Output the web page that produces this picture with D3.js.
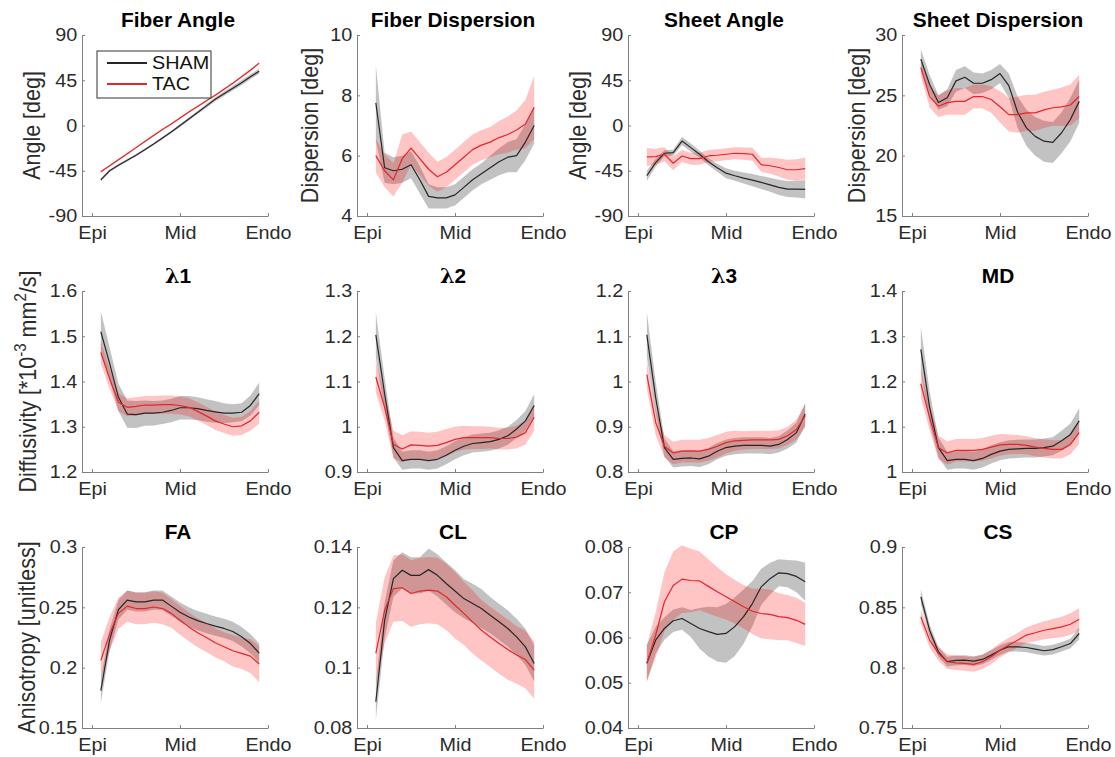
<!DOCTYPE html>
<html>
<head>
<meta charset="utf-8">
<script src="https://cdn.jsdelivr.net/npm/d3@7"></script>
<style>
  body { margin: 0; background: #fff; }
  svg { display: block; }
</style>
</head>
<body>
<svg id="fig" width="1115" height="757"></svg>
<script>
// Transmural depth bins (fraction of wall from epicardium to endocardium)
const depth = [0.05, 0.10, 0.15, 0.20, 0.25, 0.30, 0.35, 0.40, 0.45, 0.50,
               0.55, 0.60, 0.65, 0.70, 0.75, 0.80, 0.85, 0.90, 0.95];
const xTickValues = [0, 0.5, 1];
const xTickLabels = ["Epi", "Mid", "Endo"];
const groupNames = ["SHAM", "TAC"];

const panelTitles = ["Fiber Angle", "Fiber Dispersion", "Sheet Angle", "Sheet Dispersion",
                     "λ1", "λ2", "λ3", "MD", "FA", "CL", "CP", "CS"];
const yAxisLabels = ["Angle [deg]", "Dispersion [deg]", "Angle [deg]", "Dispersion [deg]",
                     "Diffusivity [*10^{-3} mm^{2}/s]", "", "", "",
                     "Anisotropy [unitless]", "", "", ""];
const yLimits = [[-90, 90], [4, 10], [-90, 90], [15, 30],
                 [1.2, 1.6], [0.9, 1.3], [0.8, 1.2], [1, 1.4],
                 [0.15, 0.3], [0.08, 0.14], [0.04, 0.08], [0.75, 0.9]];
const yTickValues = [[-90, -45, 0, 45, 90], [4, 6, 8, 10], [-90, -45, 0, 45, 90], [15, 20, 25, 30],
                     [1.2, 1.3, 1.4, 1.5, 1.6], [0.9, 1, 1.1, 1.2, 1.3], [0.8, 0.9, 1, 1.1, 1.2], [1, 1.1, 1.2, 1.3, 1.4],
                     [0.15, 0.2, 0.25, 0.3], [0.08, 0.1, 0.12, 0.14], [0.04, 0.05, 0.06, 0.07, 0.08], [0.75, 0.8, 0.85, 0.9]];

// Group means and standard errors per depth bin
const fiberAngleSham     = [-54, -45, -39.5, -34.5, -29.5, -24, -18.5, -12.5, -6.5, 0, 6.5, 13, 19.5, 26, 31.5, 37, 42.5, 48.5, 54];
const fiberAngleShamSem  = [1.5, 1.3, 1.2, 1.2, 1.2, 1.2, 1.2, 1.3, 1.3, 1.4, 1.5, 1.6, 1.8, 2, 2.2, 2.3, 2.4, 2.5, 2.5];
const fiberAngleTac      = [-46, -40, -34, -28, -22, -16, -10, -4, 1.5, 7.5, 13.5, 19, 24.5, 30, 36, 42, 48.5, 55, 62];
const fiberAngleTacSem   = [1, 1, 1, 1, 1, 1, 1, 1, 1, 1, 1, 1, 1, 1, 1, 1, 1.1, 1.2, 1.2];

const fiberDispSham      = [7.75, 5.6, 5.5, 5.55, 5.7, 5.2, 4.65, 4.6, 4.6, 4.7, 4.95, 5.2, 5.4, 5.6, 5.8, 5.95, 6.0, 6.45, 7.0];
const fiberDispShamSem   = [1.25, 0.5, 0.45, 0.45, 0.45, 0.45, 0.4, 0.35, 0.35, 0.35, 0.35, 0.35, 0.35, 0.4, 0.45, 0.5, 0.55, 0.6, 0.6];
const fiberDispTac       = [6.0, 5.5, 5.2, 5.9, 6.25, 5.9, 5.55, 5.3, 5.45, 5.7, 5.95, 6.2, 6.35, 6.45, 6.6, 6.7, 6.85, 7.05, 7.6];
const fiberDispTacSem    = [0.55, 0.55, 0.55, 0.8, 0.55, 0.55, 0.55, 0.5, 0.5, 0.5, 0.5, 0.5, 0.5, 0.5, 0.55, 0.6, 0.65, 0.8, 1.05];

const sheetAngleSham     = [-50, -37, -27.6, -27, -15.5, -22, -28.6, -36, -42, -47.4, -50, -52.3, -54.3, -56.6, -59, -61.5, -63.2, -63.2, -63.5];
const sheetAngleShamSem  = [5, 4, 3, 3, 4, 4, 3.5, 3.5, 4, 5, 5, 5.5, 6, 6.5, 7, 7.5, 8, 8.5, 9];
const sheetAngleTac      = [-31.3, -31, -28.6, -37.5, -30.3, -33, -33, -30.3, -29.6, -28.6, -27.6, -28, -28.6, -39, -40, -41.8, -44, -44, -42.8];
const sheetAngleTacSem   = [9, 8, 7, 7, 6, 6, 6, 6, 6, 6, 6, 6, 6.5, 7, 8, 9, 10, 10.5, 11];

const sheetDispSham      = [28.0, 25.9, 24.4, 24.8, 26.2, 26.5, 26.0, 26.0, 26.3, 26.8, 25.8, 23.6, 22.3, 21.6, 21.2, 21.1, 21.9, 23.0, 24.5];
const sheetDispShamSem   = [0.8, 0.8, 0.6, 0.7, 0.9, 0.9, 0.9, 0.8, 0.8, 0.8, 1.0, 1.3, 1.5, 1.6, 1.7, 1.7, 1.7, 1.8, 1.8];
const sheetDispTac       = [27.3, 24.9, 24.1, 24.4, 24.5, 24.5, 24.9, 24.9, 24.65, 24.05, 23.4, 23.4, 23.55, 23.55, 23.8, 23.97, 24.05, 24.2, 24.9];
const sheetDispTacSem    = [0.7, 0.9, 0.9, 1.0, 1.1, 1.1, 1.0, 1.0, 1.1, 1.3, 1.4, 1.5, 1.5, 1.5, 1.5, 1.5, 1.6, 1.7, 1.8];

const lambda1Sham        = [1.51, 1.44, 1.365, 1.328, 1.327, 1.33, 1.33, 1.332, 1.336, 1.342, 1.342, 1.34, 1.336, 1.333, 1.33, 1.33, 1.332, 1.347, 1.373];
const lambda1ShamSem     = [0.045, 0.035, 0.03, 0.03, 0.03, 0.028, 0.027, 0.026, 0.026, 0.026, 0.026, 0.025, 0.025, 0.024, 0.022, 0.02, 0.02, 0.022, 0.025];
const lambda1Tac         = [1.464, 1.406, 1.354, 1.343, 1.345, 1.348, 1.348, 1.349, 1.349, 1.347, 1.343, 1.334, 1.324, 1.313, 1.306, 1.3, 1.302, 1.313, 1.332];
const lambda1TacSem      = [0.025, 0.022, 0.02, 0.02, 0.02, 0.02, 0.02, 0.02, 0.02, 0.02, 0.02, 0.02, 0.02, 0.02, 0.02, 0.02, 0.02, 0.022, 0.025];

const lambda2Sham        = [1.203, 1.073, 0.954, 0.925, 0.928, 0.928, 0.925, 0.928, 0.937, 0.948, 0.957, 0.963, 0.965, 0.967, 0.972, 0.98, 0.995, 1.013, 1.047];
const lambda2ShamSem     = [0.05, 0.035, 0.022, 0.02, 0.02, 0.02, 0.02, 0.02, 0.02, 0.02, 0.02, 0.02, 0.02, 0.02, 0.02, 0.02, 0.02, 0.022, 0.025];
const lambda2Tac         = [1.11, 1.043, 0.961, 0.951, 0.96, 0.959, 0.957, 0.959, 0.965, 0.972, 0.976, 0.976, 0.976, 0.976, 0.974, 0.974, 0.977, 0.987, 1.021];
const lambda2TacSem      = [0.035, 0.03, 0.03, 0.03, 0.03, 0.03, 0.03, 0.03, 0.03, 0.028, 0.026, 0.025, 0.025, 0.024, 0.024, 0.024, 0.025, 0.026, 0.03];

const lambda3Sham        = [1.103, 0.965, 0.854, 0.828, 0.83, 0.831, 0.829, 0.835, 0.846, 0.854, 0.857, 0.859, 0.859, 0.859, 0.857, 0.861, 0.872, 0.887, 0.928];
const lambda3ShamSem     = [0.05, 0.035, 0.02, 0.018, 0.018, 0.018, 0.018, 0.018, 0.018, 0.018, 0.018, 0.018, 0.018, 0.018, 0.018, 0.018, 0.02, 0.022, 0.025];
const lambda3Tac         = [1.015, 0.91, 0.857, 0.842, 0.846, 0.846, 0.846, 0.85, 0.857, 0.865, 0.869, 0.87, 0.871, 0.871, 0.871, 0.872, 0.88, 0.894, 0.924];
const lambda3TacSem      = [0.03, 0.028, 0.025, 0.025, 0.025, 0.025, 0.025, 0.025, 0.025, 0.024, 0.022, 0.02, 0.02, 0.02, 0.02, 0.02, 0.02, 0.022, 0.025];

const mdSham             = [1.271, 1.143, 1.054, 1.025, 1.028, 1.028, 1.025, 1.03, 1.039, 1.046, 1.05, 1.051, 1.052, 1.052, 1.054, 1.057, 1.069, 1.083, 1.113];
const mdShamSem          = [0.05, 0.035, 0.022, 0.02, 0.02, 0.02, 0.02, 0.02, 0.02, 0.02, 0.02, 0.02, 0.02, 0.02, 0.02, 0.02, 0.022, 0.024, 0.028];
const mdTac              = [1.195, 1.12, 1.054, 1.042, 1.048, 1.048, 1.048, 1.05, 1.055, 1.06, 1.061, 1.061, 1.059, 1.055, 1.052, 1.05, 1.05, 1.061, 1.087];
const mdTacSem           = [0.03, 0.028, 0.026, 0.026, 0.025, 0.025, 0.025, 0.025, 0.025, 0.024, 0.022, 0.021, 0.02, 0.02, 0.02, 0.02, 0.02, 0.022, 0.025];

const faSham             = [0.181, 0.223, 0.248, 0.256, 0.2545, 0.2545, 0.256, 0.256, 0.251, 0.246, 0.242, 0.239, 0.2366, 0.2344, 0.2325, 0.23, 0.2256, 0.22, 0.212];
const faShamSem          = [0.01, 0.009, 0.008, 0.008, 0.008, 0.008, 0.008, 0.008, 0.008, 0.008, 0.008, 0.008, 0.008, 0.008, 0.008, 0.008, 0.008, 0.008, 0.008];
const faTac              = [0.206, 0.228, 0.245, 0.251, 0.249, 0.249, 0.2503, 0.249, 0.245, 0.2393, 0.2338, 0.229, 0.225, 0.2206, 0.2173, 0.214, 0.2118, 0.2096, 0.203];
const faTacSem           = [0.015, 0.014, 0.013, 0.013, 0.013, 0.013, 0.013, 0.013, 0.012, 0.012, 0.012, 0.012, 0.012, 0.012, 0.012, 0.013, 0.013, 0.014, 0.015];

const clSham             = [0.0887, 0.1157, 0.1295, 0.1323, 0.1306, 0.1306, 0.1325, 0.1306, 0.1279, 0.1254, 0.1229, 0.1213, 0.1196, 0.1174, 0.1152, 0.113, 0.1102, 0.1069, 0.1014];
const clShamSem          = [0.006, 0.006, 0.006, 0.006, 0.006, 0.006, 0.007, 0.007, 0.007, 0.007, 0.0065, 0.0065, 0.0065, 0.006, 0.006, 0.006, 0.006, 0.006, 0.006];
const clTac              = [0.1047, 0.119, 0.1262, 0.1265, 0.1246, 0.1254, 0.1257, 0.1254, 0.1235, 0.1207, 0.118, 0.1152, 0.1124, 0.1102, 0.108, 0.106, 0.1042, 0.1027, 0.0992];
const clTacSem           = [0.01, 0.011, 0.011, 0.011, 0.011, 0.011, 0.011, 0.011, 0.011, 0.011, 0.0105, 0.0105, 0.01, 0.01, 0.01, 0.01, 0.0095, 0.0095, 0.0095];

const cpSham             = [0.0543, 0.0594, 0.062, 0.0637, 0.0642, 0.0631, 0.062, 0.0613, 0.0607, 0.0609, 0.0624, 0.0646, 0.0675, 0.0712, 0.073, 0.0743, 0.0741, 0.0735, 0.0723];
const cpShamSem          = [0.004, 0.003, 0.0025, 0.0025, 0.0025, 0.003, 0.0045, 0.0055, 0.006, 0.0065, 0.0065, 0.006, 0.005, 0.004, 0.0035, 0.003, 0.003, 0.0035, 0.0042];
const cpTac              = [0.0543, 0.0605, 0.0679, 0.0715, 0.0729, 0.0726, 0.0725, 0.0713, 0.0701, 0.069, 0.0679, 0.0668, 0.0658, 0.0653, 0.0651, 0.0646, 0.0644, 0.0638, 0.0629];
const cpTacSem           = [0.004, 0.005, 0.0065, 0.0075, 0.0075, 0.007, 0.0065, 0.006, 0.0055, 0.005, 0.0048, 0.0048, 0.005, 0.0055, 0.0055, 0.0052, 0.005, 0.005, 0.0048];

const csSham             = [0.8587, 0.831, 0.813, 0.805, 0.806, 0.8063, 0.8054, 0.8068, 0.8104, 0.8145, 0.8173, 0.8173, 0.8167, 0.8154, 0.814, 0.815, 0.8173, 0.82, 0.8283];
const csShamSem          = [0.006, 0.005, 0.004, 0.004, 0.004, 0.004, 0.004, 0.004, 0.004, 0.004, 0.004, 0.004, 0.004, 0.004, 0.004, 0.004, 0.004, 0.004, 0.005];
const csTac              = [0.8421, 0.8228, 0.8118, 0.8049, 0.804, 0.8035, 0.8027, 0.8049, 0.809, 0.8145, 0.8187, 0.8228, 0.827, 0.8289, 0.831, 0.8324, 0.8338, 0.836, 0.8402];
const csTacSem           = [0.006, 0.006, 0.006, 0.006, 0.006, 0.006, 0.006, 0.006, 0.006, 0.006, 0.006, 0.006, 0.0065, 0.007, 0.0075, 0.008, 0.0085, 0.009, 0.009];

// Panel table assembled from the named arrays above
const shamMeans = [fiberAngleSham, fiberDispSham, sheetAngleSham, sheetDispSham, lambda1Sham, lambda2Sham, lambda3Sham, mdSham, faSham, clSham, cpSham, csSham];
const shamSems  = [fiberAngleShamSem, fiberDispShamSem, sheetAngleShamSem, sheetDispShamSem, lambda1ShamSem, lambda2ShamSem, lambda3ShamSem, mdShamSem, faShamSem, clShamSem, cpShamSem, csShamSem];
const tacMeans  = [fiberAngleTac, fiberDispTac, sheetAngleTac, sheetDispTac, lambda1Tac, lambda2Tac, lambda3Tac, mdTac, faTac, clTac, cpTac, csTac];
const tacSems   = [fiberAngleTacSem, fiberDispTacSem, sheetAngleTacSem, sheetDispTacSem, lambda1TacSem, lambda2TacSem, lambda3TacSem, mdTacSem, faTacSem, clTacSem, cpTacSem, csTacSem];

// ---- layout and style ----
const colLeft = [82, 357, 628, 902];
const rowTop = [35, 291, 547];
const axW = 186, axH = 181;
const yLabelGap = [42, 39, 42, 37, 46, 0, 0, 0, 47.5, 0, 0, 0];   // axis-to-baseline distance of y labels
const SX = 1.07;                 // horizontal glyph stretch
const FONT = "'Liberation Sans', Arial, Helvetica, sans-serif";
const tickSize = 18.5, titleSize = 19.5, labelSize = 21.5;
const axisColor = "#808080", textColor = "#2b2b2b";
const shamLine = "#262626", tacLine = "#e3262b";
const shamFill = "#000000", shamFillOpacity = 0.24;
const tacFill = "#ff0000", tacFillOpacity = 0.23;

const svg = d3.select("#fig");
const fmt = d => String(Math.round(d * 1e6) / 1e6);

panelTitles.forEach((title, i) => {
  const col = i % 4, row = Math.floor(i / 4);
  const g = svg.append("g").attr("transform", `translate(${colLeft[col]},${rowTop[row]})`);

  const x = d3.scaleLinear().domain([-0.057, 1.0]).range([0, axW]);
  const y = d3.scaleLinear().domain(yLimits[i]).range([axH, 0]);

  const series = [
    { mean: shamMeans[i], sem: shamSems[i], line: shamLine, fill: shamFill, op: shamFillOpacity },
    { mean: tacMeans[i],  sem: tacSems[i],  line: tacLine,  fill: tacFill,  op: tacFillOpacity }
  ];

  const area = d3.area()
    .x(d => x(d.x)).y0(d => y(d.m - d.s)).y1(d => y(d.m + d.s));
  const line = d3.line().x(d => x(d.x)).y(d => y(d.m));

  series.forEach(s => {
    const pts = depth.map((dx, k) => ({ x: dx, m: s.mean[k], s: s.sem[k] }));
    g.append("path").datum(pts).attr("d", area)
      .attr("fill", s.fill).attr("fill-opacity", s.op).attr("stroke", "none");
  });
  series.forEach(s => {
    const pts = depth.map((dx, k) => ({ x: dx, m: s.mean[k] }));
    g.append("path").datum(pts).attr("d", line)
      .attr("fill", "none").attr("stroke", s.line).attr("stroke-width", 1.2)
      .attr("stroke-linejoin", "round");
  });

  // axes
  const yAxis = d3.axisLeft(y).tickValues(yTickValues[i]).tickFormat(fmt)
    .tickSize(-3).tickSizeOuter(0).tickPadding(4.5);
  const xAxis = d3.axisBottom(x).tickValues(xTickValues).tickFormat((d, k) => xTickLabels[k])
    .tickSize(-3).tickSizeOuter(0).tickPadding(10);

  const gy = g.append("g").call(yAxis);
  const gx = g.append("g").attr("transform", `translate(0,${axH})`).call(xAxis);
  [gx, gy].forEach(ax => {
    ax.select(".domain").attr("stroke", axisColor).attr("stroke-width", 1);
    ax.selectAll(".tick line").attr("stroke", axisColor);
    ax.selectAll(".tick text")
      .attr("font-family", FONT).attr("font-size", tickSize).attr("fill", textColor)
      .attr("transform", `scale(${SX},1)`);
  });

  // title
  const t = g.append("text")
    .attr("transform", `translate(${axW / 2 + 3},-8.5) scale(${SX},1)`)
    .attr("text-anchor", "middle")
    .attr("font-family", FONT).attr("font-size", titleSize).attr("font-weight", "bold")
    .attr("fill", "#000");
  if (title.startsWith("λ")) {
    t.append("tspan").attr("font-family", "'DejaVu Serif', 'Liberation Serif', serif").text("λ");
    t.append("tspan").text(title.slice(1));
  } else {
    t.text(title);
  }

  // y label (supports ^{...} superscripts)
  const lab = yAxisLabels[i];
  if (lab) {
    const yl = g.append("text")
      .attr("transform", `translate(${-yLabelGap[i]},${axH / 2}) rotate(-90) scale(1,${SX})`)
      .attr("text-anchor", "middle")
      .attr("font-family", FONT).attr("font-size", labelSize).attr("fill", textColor);
    const parts = lab.split(/(\^\{[^}]*\})/).filter(p => p.length);
    let raised = false;
    parts.forEach(p => {
      const sup = p.startsWith("^{");
      const txt = sup ? p.slice(2, -1) : p;
      const ts = yl.append("tspan").text(txt);
      if (sup) {
        ts.attr("font-size", labelSize * 0.7).attr("dy", -labelSize * 0.42);
        raised = true;
      } else if (raised) {
        ts.attr("dy", labelSize * 0.42);
        raised = false;
      }
    });
  }

  // legend in the first panel
  if (i === 0) {
    const lg = g.append("g");
    lg.append("rect").attr("x", 15).attr("y", 16).attr("width", 114).attr("height", 47)
      .attr("fill", "#fff").attr("stroke", "#333").attr("stroke-width", 1);
    [shamLine, tacLine].forEach((c, k) => {
      const yy = 28 + k * 21;
      lg.append("line").attr("x1", 25).attr("x2", 65).attr("y1", yy).attr("y2", yy)
        .attr("stroke", c).attr("stroke-width", 2.2);
      lg.append("text")
        .attr("transform", `translate(70,${yy}) scale(${SX},1)`)
        .attr("dy", "0.35em")
        .attr("font-family", FONT).attr("font-size", tickSize).attr("fill", "#111")
        .text(groupNames[k]);
    });
  }
});
</script>
</body>
</html>
